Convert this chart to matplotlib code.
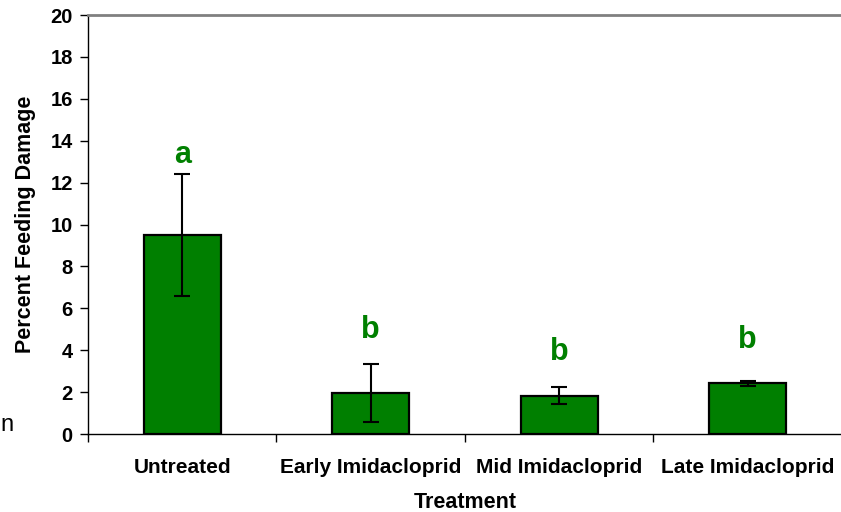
import matplotlib.pyplot as plt

plt.rcParams['font.family'] = ['Liberation Sans', 'DejaVu Sans']

treatments = ['Untreated', 'Early Imidacloprid', 'Mid Imidacloprid', 'Late Imidacloprid']
damage = [9.5, 1.95, 1.83, 2.43]
damage_se = [2.9, 1.38, 0.42, 0.12]
letters = ['a', 'b', 'b', 'b']
letter_y = [13.3, 4.95, 3.9, 4.5]

fig = plt.figure(figsize=(8.41, 5.12), dpi=100)
ax = fig.add_axes([0.1046, 0.1523, 0.8966, 0.8184])

x = range(len(treatments))
ax.bar(x, damage, width=0.41, color='#007F00', edgecolor='black', linewidth=1.6, zorder=2)
ax.errorbar(x, damage, yerr=damage_se, fmt='none', ecolor='black', elinewidth=1.5,
            capsize=5.5, capthick=1.5, zorder=3)

for xi, lab, ly in zip(x, letters, letter_y):
    ax.text(xi, ly, lab, color='#008000', fontsize=22, fontweight='bold',
            ha='center', va='center')

ax.set_xlim(-0.5, 3.5)
ax.set_ylim(0, 20)
ax.set_yticks(range(0, 21, 2))
ax.set_xticks(list(x))
ax.set_xticklabels(treatments, fontsize=15, fontweight='bold')
ax.set_xticks([-0.5, 0.5, 1.5, 2.5], minor=True)
ax.tick_params(axis='x', which='major', length=0, pad=17)
ax.tick_params(axis='x', which='minor', length=6, width=1, direction='out')
ax.tick_params(axis='y', length=6, width=1, direction='out', labelsize=14.5, pad=5)
for t in ax.get_yticklabels():
    t.set_fontweight('bold')

ax.spines['right'].set_visible(False)
ax.spines['top'].set_color('#808080')
ax.spines['top'].set_linewidth(2)
ax.spines['left'].set_linewidth(1)
ax.spines['bottom'].set_linewidth(1)

ax.set_xlabel('Treatment', fontsize=15.5, fontweight='bold', labelpad=11)
ax.set_ylabel('Percent Feeding Damage', fontsize=15.5, fontweight='bold', labelpad=10)

fig.text(0.001, 0.17, 'n', fontsize=17, ha='left', va='center')

fig.savefig('out.png', dpi=100)
